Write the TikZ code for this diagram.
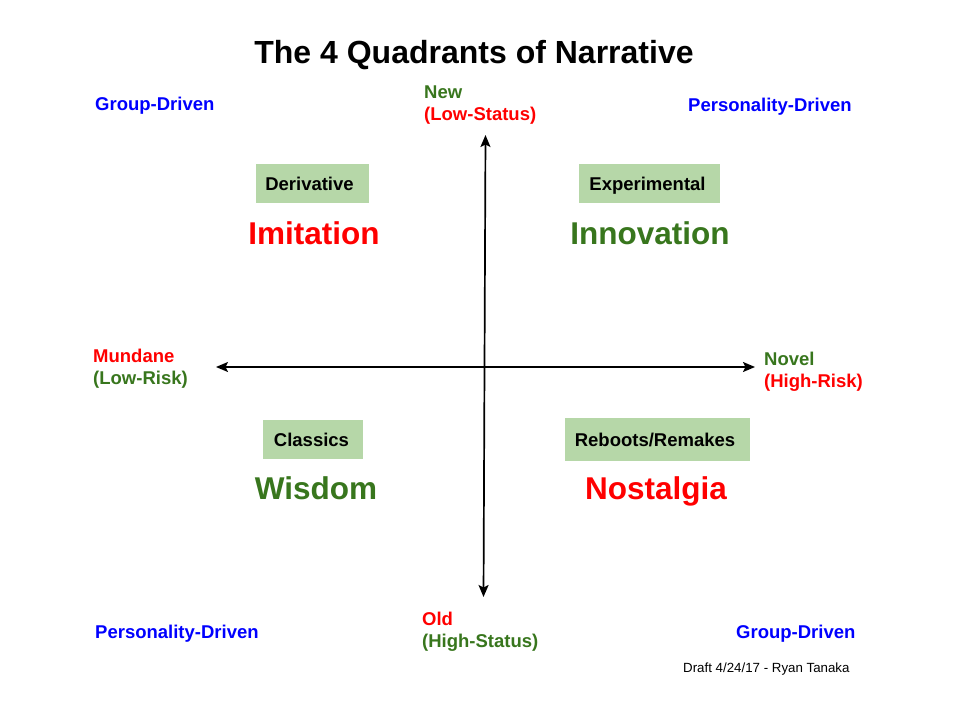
\documentclass[tikz,border=0pt]{standalone}
\usepackage{fontspec}
\setmainfont{Liberation Sans}
\usetikzlibrary{arrows.meta}
\definecolor{gdark}{HTML}{38761D}
\definecolor{rbright}{HTML}{FF0000}
\definecolor{bblue}{HTML}{0000FF}
\definecolor{boxfill}{HTML}{B6D7A8}
\begin{document}
\begin{tikzpicture}[x=1pt,y=-1pt,
  lab/.style={inner sep=0pt,font=\fontsize{18.5}{22}\selectfont\bfseries,align=left},
  drive/.style={lab,text=bblue,anchor=base west},
  big/.style={inner sep=0pt,font=\fontsize{31.5}{36}\selectfont\bfseries,anchor=base},
  tag/.style={fill=boxfill,inner sep=0pt,text height=13.3pt,text depth=0pt,font=\fontsize{18.5}{22}\selectfont\bfseries,text=black},
  tip/.tip={Stealth[length=12pt,width=10pt,inset=2.5pt]},
  axis/.style={line width=1.7pt,tip-tip}
]
\useasboundingbox[fill=white] (0,0) rectangle (960,720);

\node[inner sep=0pt,font=\fontsize{32}{36}\selectfont\bfseries,anchor=base] (title) at (474,63.5) {The 4 Quadrants of Narrative};

\node[drive] (gdtl) at (95,110) {Group-Driven};
\node[drive] (pdtr) at (688,111) {Personality-Driven};
\node[drive] (pdbl) at (95,638) {Personality-Driven};
\node[drive] (gdbr) at (736,638) {Group-Driven};

\node[lab,anchor=base west] (new) at (424,120) {\textcolor{gdark}{New}\\\textcolor{rbright}{(Low-Status)}};
\node[lab,anchor=base west] (mund) at (93,384) {\textcolor{rbright}{Mundane}\\\textcolor{gdark}{(Low-Risk)}};
\node[lab,anchor=base west] (novel) at (764,387) {\textcolor{gdark}{Novel}\\\textcolor{rbright}{(High-Risk)}};
\node[lab,anchor=base west] (old) at (422,647) {\textcolor{rbright}{Old}\\\textcolor{gdark}{(High-Status)}};

\coordinate (ytop) at (485.5,135);
\coordinate (ybot) at (483.5,597);
\coordinate (xleft) at (216,367);
\coordinate (xright) at (755,367);
\draw[axis] (ybot) -- (ytop);
\draw[axis] (xleft) -- (xright);

\node[tag,minimum width=113,minimum height=39] (deriv) at (312.5,183.5) {\hspace*{-6pt}Derivative};
\node[tag,minimum width=141,minimum height=39] (exper) at (649.5,183.5) {\hspace*{-4pt}Experimental};
\node[tag,minimum width=100,minimum height=39] (class) at (313,439.5) {\hspace*{-3pt}Classics};
\node[tag,minimum width=185,minimum height=43] (reboot) at (657.5,439.5) {\hspace*{-5pt}Reboots/Remakes};

\node[big,text=rbright] (imit) at (314,244.5) {Imitation};
\node[big,text=gdark] (innov) at (650,244.5) {Innovation};
\node[big,text=gdark] (wisd) at (316,499.5) {Wisdom};
\node[big,text=rbright] (nost) at (656,499.5) {Nostalgia};

\node[inner sep=0pt,font=\fontsize{13.3}{16}\selectfont,anchor=base west] (draft) at (683,672) {Draft 4/24/17 - Ryan Tanaka};
\end{tikzpicture}
\end{document}
